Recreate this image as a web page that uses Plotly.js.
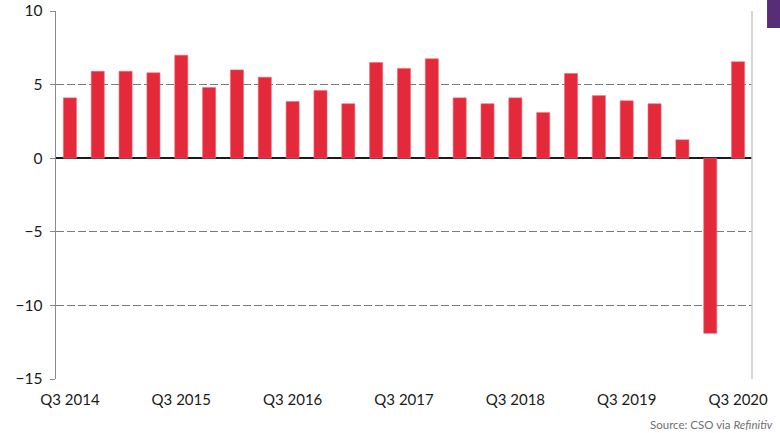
<!DOCTYPE html>
<html>
<head>
<meta charset="utf-8">
<script src="https://cdn.plot.ly/plotly-3.0.1.min.js"></script>
<style>html,body{margin:0;padding:0;background:#fff;}#chart{width:780px;height:433px;}</style>
</head>
<body>
<div id="chart"></div>
<script>
const quarters = ["Q3 2014","Q4 2014","Q1 2015","Q2 2015","Q3 2015","Q4 2015","Q1 2016","Q2 2016","Q3 2016","Q4 2016","Q1 2017","Q2 2017","Q3 2017","Q4 2017","Q1 2018","Q2 2018","Q3 2018","Q4 2018","Q1 2019","Q2 2019","Q3 2019","Q4 2019","Q1 2020","Q2 2020","Q3 2020"];
const growth = [4.1, 5.9, 5.9, 5.8, 7.0, 4.8, 6.0, 5.5, 3.85, 4.6, 3.7, 6.5, 6.1, 6.75, 4.1, 3.7, 4.1, 3.1, 5.75, 4.25, 3.9, 3.7, 1.25, -11.9, 6.55];
const tickLabels = ["Q3 2014","Q3 2015","Q3 2016","Q3 2017","Q3 2018","Q3 2019","Q3 2020"];
const yTicks = [-15, -10, -5, 0, 5, 10];

const trace = {
  type: 'bar',
  x: quarters,
  y: growth,
  marker: {color: '#e3293a', line: {color: '#ef6a76', width: 0.6}},
  hoverinfo: 'x+y'
};

const layout = {
  width: 780, height: 433,
  margin: {l: 56, r: 28, t: 11, b: 54},
  paper_bgcolor: '#fff', plot_bgcolor: '#fff',
  bargap: 0.53,
  showlegend: false,
  font: {family: 'Lato, "Open Sans", sans-serif', color: '#1a1a1a'},
  xaxis: {
    type: 'category',
    range: [-0.5, 24.5],
    tickmode: 'array',
    tickvals: tickLabels,
    ticktext: tickLabels,
    ticks: '',
    showgrid: false,
    showline: false,
    zeroline: false,
    tickfont: {size: 15, color: '#1a1a1a'},
    ticklabelstandoff: 10
  },
  yaxis: {
    range: [-15, 10],
    tickmode: 'array',
    tickvals: yTicks,
    ticks: 'outside',
    ticklen: 5,
    tickcolor: '#888',
    tickfont: {size: 15.5, color: '#1a1a1a'},
    showline: true,
    linecolor: '#8a8a8a',
    linewidth: 1.5,
    showgrid: true,
    gridcolor: '#7a7a7a',
    griddash: '8px,3px',
    gridwidth: 1,
    zeroline: true,
    zerolinecolor: '#1a1a1a',
    zerolinewidth: 1.5,
    ticklabelstandoff: 4
  },
  shapes: [
    {type: 'line', xref: 'paper', yref: 'paper', x0: 1, x1: 1, y0: 0, y1: 1, line: {color: '#c8c8c8', width: 1.5}},
    {type: 'rect', xref: 'paper', yref: 'paper', x0: 1.0216, x1: 1.045, y0: 0.9538, y1: 1.04, fillcolor: '#582d78', line: {width: 0}, layer: 'above'}
  ],
  annotations: [
    {text: 'Source: CSO via <i>Refinitiv</i>', xref: 'paper', yref: 'paper', x: 1.033, y: -0.1223, xanchor: 'right', yanchor: 'middle', showarrow: false, font: {size: 11.5, color: '#707070', family: 'Lato, "Open Sans", sans-serif'}}
  ]
};

Plotly.newPlot('chart', [trace], layout, {displayModeBar: false, staticPlot: true});
</script>
</body>
</html>
